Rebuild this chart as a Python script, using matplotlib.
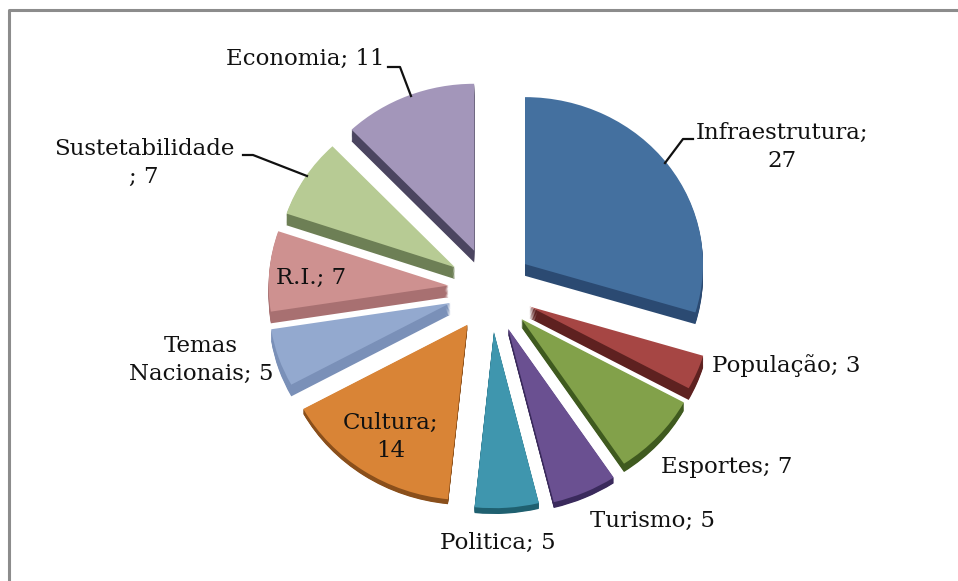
import matplotlib
matplotlib.use("Agg")
import matplotlib.pyplot as plt
from matplotlib.lines import Line2D

# --------------------------------
# Data
# --------------------------------
categories = ["Infraestrutura", "População", "Esportes", "Turismo", "Politica",
              "Cultura", "Temas Nacionais", "R.I.", "Sustetabilidade", "Economia"]
values = [27, 3, 7, 5, 5, 14, 5, 7, 7, 11]

top_colors = ["#44709f", "#a64644", "#82a14a", "#6a5091", "#3f96ae",
              "#d98436", "#93a9cf", "#ce9190", "#b7cb94", "#a396ba"]
side_colors = ["#2b4a72", "#5e2120", "#3f5a1f", "#3a2a5c", "#1f6070",
               "#8a4f1b", "#7a90b8", "#a87071", "#6d7f55", "#4b4560"]

explode = [0.28, 0.24, 0.24, 0.24, 0.24, 0.2, 0.24, 0.24, 0.24, 0.24]
depth = [0.07, 0.07, 0.05, 0.035, 0.035, 0.03, 0.07, 0.07, 0.07, 0.07]

# perspective fixes per slice: radius factor and shift in pixels
radius_scale = [1.0, 1.02, 1.04, 1.07, 1.055, 1.05, 1.02, 1.01, 1.0, 1.0]
nudge = [(-2, -5), (3, -6), (3, -5), (4, -5), (4, -5),
         (0, 0), (4, -7), (4, -8), (4, -8), (3, -9)]

W, H = 958, 581
CX, CY = 487, 297   # pie centre, pixels
RX, RY = 178, 167   # pie radius, pixels


def fx(x):
    return x / W


def fy(y):
    return 1 - y / H


fig = plt.figure(figsize=(W / 100, H / 100), dpi=100)
ax = fig.add_axes([0, 0, 1, 1])


def draw_pie(colors, drop=0.0):
    wedges, _ = ax.pie(values, colors=colors, startangle=90, counterclock=False,
                       explode=explode, wedgeprops={"linewidth": 0})
    for w, d, r, (dx, dy) in zip(wedges, depth, radius_scale, nudge):
        w.set_radius(r)
        w.set_center((w.center[0] + dx / RX, w.center[1] - dy / RY - d * drop))


# side of the slices: stacked copies, moved down
layers = 10
for k in range(layers, 0, -1):
    draw_pie(side_colors, k / layers)

# top of the slices
draw_pie(top_colors)

ax.set_aspect("auto")
ax.set_xlim(-CX / RX, (W - CX) / RX)
ax.set_ylim((CY - H) / RY, CY / RY)
ax.axis("off")

# --------------------------------
# Labels
# --------------------------------
font = {"family": "DejaVu Serif", "fontsize": 16.5, "color": "#111111",
        "ha": "center", "va": "center", "linespacing": 1.4}

fig.text(fx(782), fy(147), "Infraestrutura;\n27", **font)
fig.text(fx(786), fy(366), "População; 3", **font)
fig.text(fx(727), fy(467), "Esportes; 7", **font)
fig.text(fx(652), fy(521), "Turismo; 5", **font)
fig.text(fx(498), fy(543), "Politica; 5", **font)
fig.text(fx(391), fy(437), "Cultura;\n14", **font)
fig.text(fx(201), fy(360), "Temas\nNacionais; 5", **font)
fig.text(fx(311), fy(278), "R.I.; 7", **font)
fig.text(fx(144), fy(163), "Sustetabilidade\n; 7", **font)
fig.text(fx(305), fy(59), "Economia; 11", **font)

# leader lines
leaders = [
    ([665, 683, 693], [163, 139, 139]),
    ([411, 400, 388], [96, 67, 67]),
    ([307, 253, 243], [176, 155, 155]),
]
for xs, ys in leaders:
    fig.add_artist(Line2D([fx(x) for x in xs], [fy(y) for y in ys],
                          color="#111111", lw=1.6))

# gray frame: only left and top sides are in the picture
fig.add_artist(Line2D([fx(9), fx(9), fx(W)],
                      [fy(H), fy(10), fy(10)],
                      color="#8c8c8c", lw=2.2))

fig.savefig("out.png", dpi=100)
